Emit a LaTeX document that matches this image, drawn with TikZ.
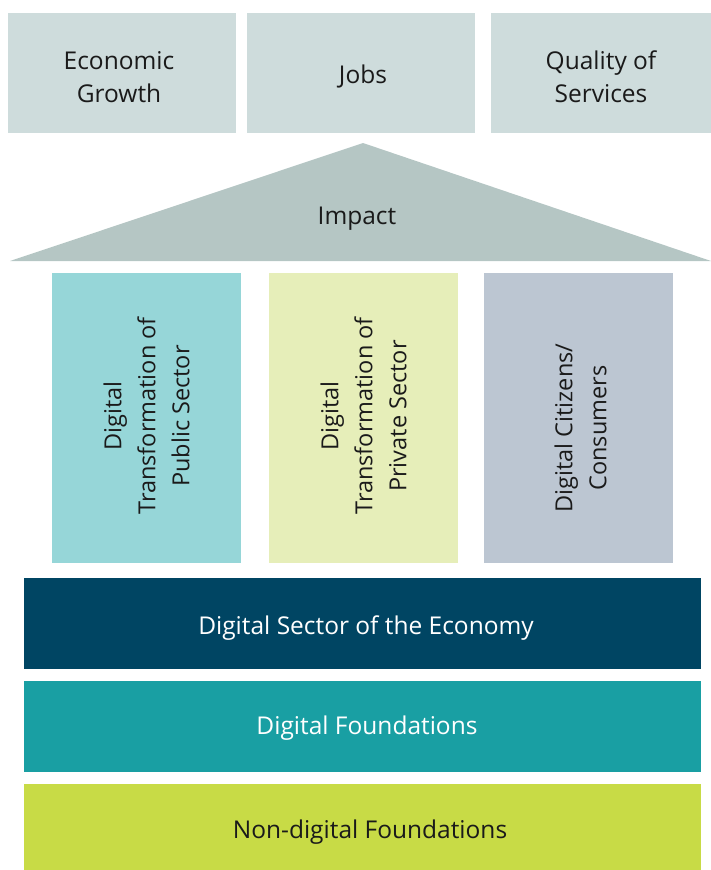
\documentclass[tikz,border=0pt]{standalone}
\usepackage{fontspec}
\setmainfont{Open Sans}
\definecolor{topbox}{HTML}{CEDCDC}
\definecolor{roof}{HTML}{B5C6C4}
\definecolor{pubcol}{HTML}{96D6D8}
\definecolor{privcol}{HTML}{E6EEB9}
\definecolor{citcol}{HTML}{BCC6D2}
\definecolor{dsecol}{HTML}{004563}
\definecolor{dfcol}{HTML}{199FA3}
\definecolor{ndfcol}{HTML}{C8DB46}
\definecolor{txt}{HTML}{1A1A1A}
\begin{document}
\begin{tikzpicture}[x=1pt,y=-1pt,
  shp/.style={rectangle, inner sep=0pt, draw=none},
  lbl/.style={inner sep=0pt, align=center, font=\fontsize{24.5}{33}\selectfont, text=txt},
  outcome/.style={shp, fill=topbox, minimum width=228pt, minimum height=120pt},
  pillar/.style={shp, minimum width=189pt, minimum height=290pt},
  ptext/.style={lbl, rotate=90, font=\fontsize{23.5}{34}\selectfont},
  layer/.style={shp, minimum width=677pt}
]
\useasboundingbox (0,0) rectangle (711,870);
% outcomes
\node[outcome] (eg) at (122,73) {};
\node[lbl] (egt) at (119,77) {Economic\\Growth};
\node[outcome] (jobs) at (361,73) {};
\node[lbl] (jobst) at (363,76) {Jobs};
\node[outcome, minimum width=220pt] (qos) at (601,73) {};
\node[lbl] (qost) at (601,77) {Quality of\\Services};
% roof
\fill[roof] (10,261) -- (363,143) -- (711,261) -- cycle;
\node[lbl] (impact) at (357,219) {Impact};
% pillars
\node[pillar, fill=pubcol] (pub) at (146.5,418) {};
\node[ptext] (pubt) at (146.5,416) {Digital\\Transformation of\\Public Sector};
\node[pillar, fill=privcol] (priv) at (363.5,418) {};
\node[ptext] (privt) at (363.5,416) {Digital\\Transformation of\\Private Sector};
\node[pillar, fill=citcol] (cit) at (578.5,418) {};
\node[ptext] (citt) at (580.5,428) {Digital Citizens/\\Consumers};
% layers
\node[layer, fill=dsecol, minimum height=91pt] (dse) at (362.5,623.5) {};
\node[lbl, text=white] (dset) at (366,628) {Digital Sector of the Economy};
\node[layer, fill=dfcol, minimum height=91pt] (df) at (362.5,726.5) {};
\node[lbl, text=white] (dft) at (367,728) {Digital Foundations};
\node[layer, fill=ndfcol, minimum height=86pt] (ndf) at (362.5,827) {};
\node[lbl] (ndft) at (370,832) {Non-digital Foundations};
\end{tikzpicture}
\end{document}
